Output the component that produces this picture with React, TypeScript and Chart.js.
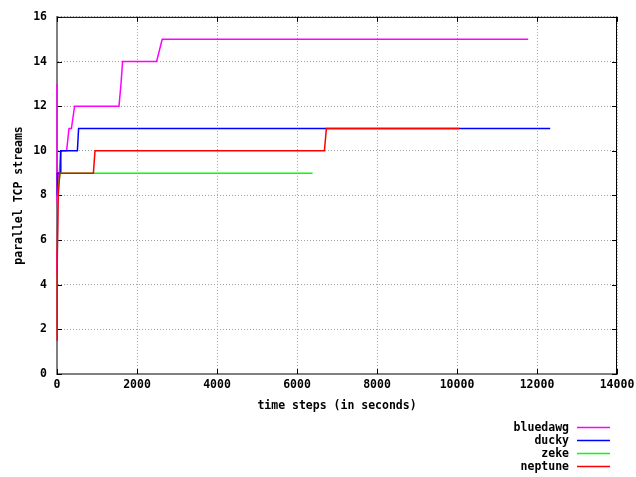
import React, { useEffect, useRef } from "react";
import { Chart, registerables } from "chart.js";

Chart.register(...registerables);

// Series data: [time step (s), parallel TCP streams]
const bluedawgX = [0, 4, 30, 60, 90, 240, 300, 360, 440, 1550, 1600, 1640, 2490, 2630, 11780];
const bluedawgY = [13, 4.5, 9, 9, 10, 10, 11, 11, 12, 12, 13, 14, 14, 15, 15];

const duckyX = [0, 10, 80, 95, 510, 540, 12330];
const duckyY = [8, 9, 9, 10, 10, 11, 11];

const zekeX = [0, 10, 40, 80, 6390];
const zekeY = [5.5, 7.5, 8.5, 9, 9];

const neptuneX = [0, 5, 30, 70, 910, 950, 6685, 6735, 10060];
const neptuneY = [1.5, 5.5, 8, 9, 9, 10, 10, 11, 11];

const seriesNames = ["bluedawg", "ducky", "zeke", "neptune"];
const seriesColors = ["#ff00ff", "#0000ff", "#00ff00", "#ff0000"];

const xTicks = [0, 2000, 4000, 6000, 8000, 10000, 12000, 14000];
const yTicks = [0, 2, 4, 6, 8, 10, 12, 14, 16];

const xTitle = "time steps (in seconds)";
const yTitle = "parallel TCP streams";

const FONT = { family: '"DejaVu Sans Mono", monospace', size: 11.5, weight: "bold" as const };

function pts(xs: number[], ys: number[]) {
  return xs.map((x, i) => ({ x, y: ys[i] }));
}

const frame = {
  id: "gnuplotFrame",
  beforeDatasetsDraw(chart: any) {
    const { ctx, chartArea } = chart;
    const { left, right, top, bottom } = chartArea;
    const xs = chart.scales.x;
    const ys = chart.scales.y;
    ctx.save();
    ctx.strokeStyle = "#000";
    ctx.lineWidth = 1;
    ctx.beginPath();
    ctx.moveTo(left, top + 0.5);
    ctx.lineTo(right, top + 0.5);
    ctx.moveTo(right - 0.5, top);
    ctx.lineTo(right - 0.5, bottom);
    // tick marks (inward, mirrored)
    yTicks.forEach((v) => {
      const y = Math.round(ys.getPixelForValue(v)) + 0.5;
      ctx.moveTo(left, y);
      ctx.lineTo(left + 5, y);
      ctx.moveTo(right, y);
      ctx.lineTo(right - 5, y);
    });
    xTicks.forEach((v) => {
      const x = Math.round(xs.getPixelForValue(v)) + 0.5;
      ctx.moveTo(x, bottom);
      ctx.lineTo(x, bottom - 5);
      ctx.moveTo(x, top);
      ctx.lineTo(x, top + 5);
    });
    ctx.stroke();
    ctx.restore();
  },
};

const legendPlugin = {
  id: "gnuplotLegend",
  afterDraw(chart: any) {
    const { ctx } = chart;
    const rows = [427.5, 440.5, 453.5, 466.5];
    ctx.save();
    ctx.font = 'bold 11.5px "DejaVu Sans Mono", monospace';
    ctx.textAlign = "right";
    ctx.textBaseline = "middle";
    chart.data.datasets.forEach((ds: any, i: number) => {
      const y = rows[i];
      ctx.fillStyle = "#000";
      ctx.fillText(ds.label, 569, y + 1);
      ctx.strokeStyle = ds.borderColor;
      ctx.lineWidth = 1.5;
      ctx.beginPath();
      ctx.moveTo(577, y);
      ctx.lineTo(610, y);
      ctx.stroke();
    });
    ctx.restore();
  },
};

export default function App() {
  const ref = useRef<HTMLCanvasElement | null>(null);
  useEffect(() => {
    if (!ref.current) return;
    const data = [pts(bluedawgX, bluedawgY), pts(duckyX, duckyY), pts(zekeX, zekeY), pts(neptuneX, neptuneY)];
    const chart = new Chart(ref.current, {
      type: "line",
      data: {
        datasets: data.map((d, i) => ({
          label: seriesNames[i],
          data: d,
          borderColor: seriesColors[i],
          backgroundColor: seriesColors[i],
          borderWidth: 1.5,
          pointRadius: 0,
          tension: 0,
          fill: false,
          clip: 4,
          order: 4 - i,
        })),
      },
      options: {
        responsive: false,
        animation: false,
        devicePixelRatio: 1,
        layout: { padding: { top: 16, right: 19, left: 0, bottom: 0 } },
        plugins: { legend: { display: false }, tooltip: { enabled: false } },
        scales: {
          x: {
            type: "linear",
            min: 0,
            max: 14000,
            afterBuildTicks: (s: any) => {
              s.ticks = xTicks.map((v) => ({ value: v }));
            },
            afterFit: (s: any) => {
              s.height = 103;
              s.paddingLeft = 0;
              s.paddingRight = 0;
            },
            ticks: {
              font: FONT,
              color: "#000",
              padding: 4,
              maxRotation: 0,
              autoSkip: false,
              callback: (v: any) => String(v),
            },
            grid: { color: "#a0a0a0", drawTicks: false, lineWidth: 1 },
            border: { display: true, color: "#808080", width: 2, dash: [1, 2] },
            title: { display: true, text: xTitle, font: FONT, color: "#000", padding: { top: 0, bottom: 64 } },
          },
          y: {
            type: "linear",
            min: 0,
            max: 16,
            afterBuildTicks: (s: any) => {
              s.ticks = yTicks.map((v) => ({ value: v }));
            },
            afterFit: (s: any) => {
              s.width = 57;
            },
            ticks: { font: FONT, color: "#000", padding: 10, autoSkip: false, callback: (v: any) => String(v) },
            grid: { color: "#a0a0a0", drawTicks: false, lineWidth: 1 },
            border: { display: true, color: "#808080", width: 2, dash: [1, 2] },
            title: { display: true, text: yTitle, font: FONT, color: "#000", padding: { top: 12, bottom: 0 } },
          },
        },
      },
      plugins: [frame, legendPlugin],
    });
    return () => chart.destroy();
  }, []);
  return (
    <div style={{ position: "fixed", left: 0, top: 0, width: 636, height: 477, background: "#fff" }}>
      <canvas ref={ref} width={636} height={477} style={{ display: "block" }} />
    </div>
  );
}
